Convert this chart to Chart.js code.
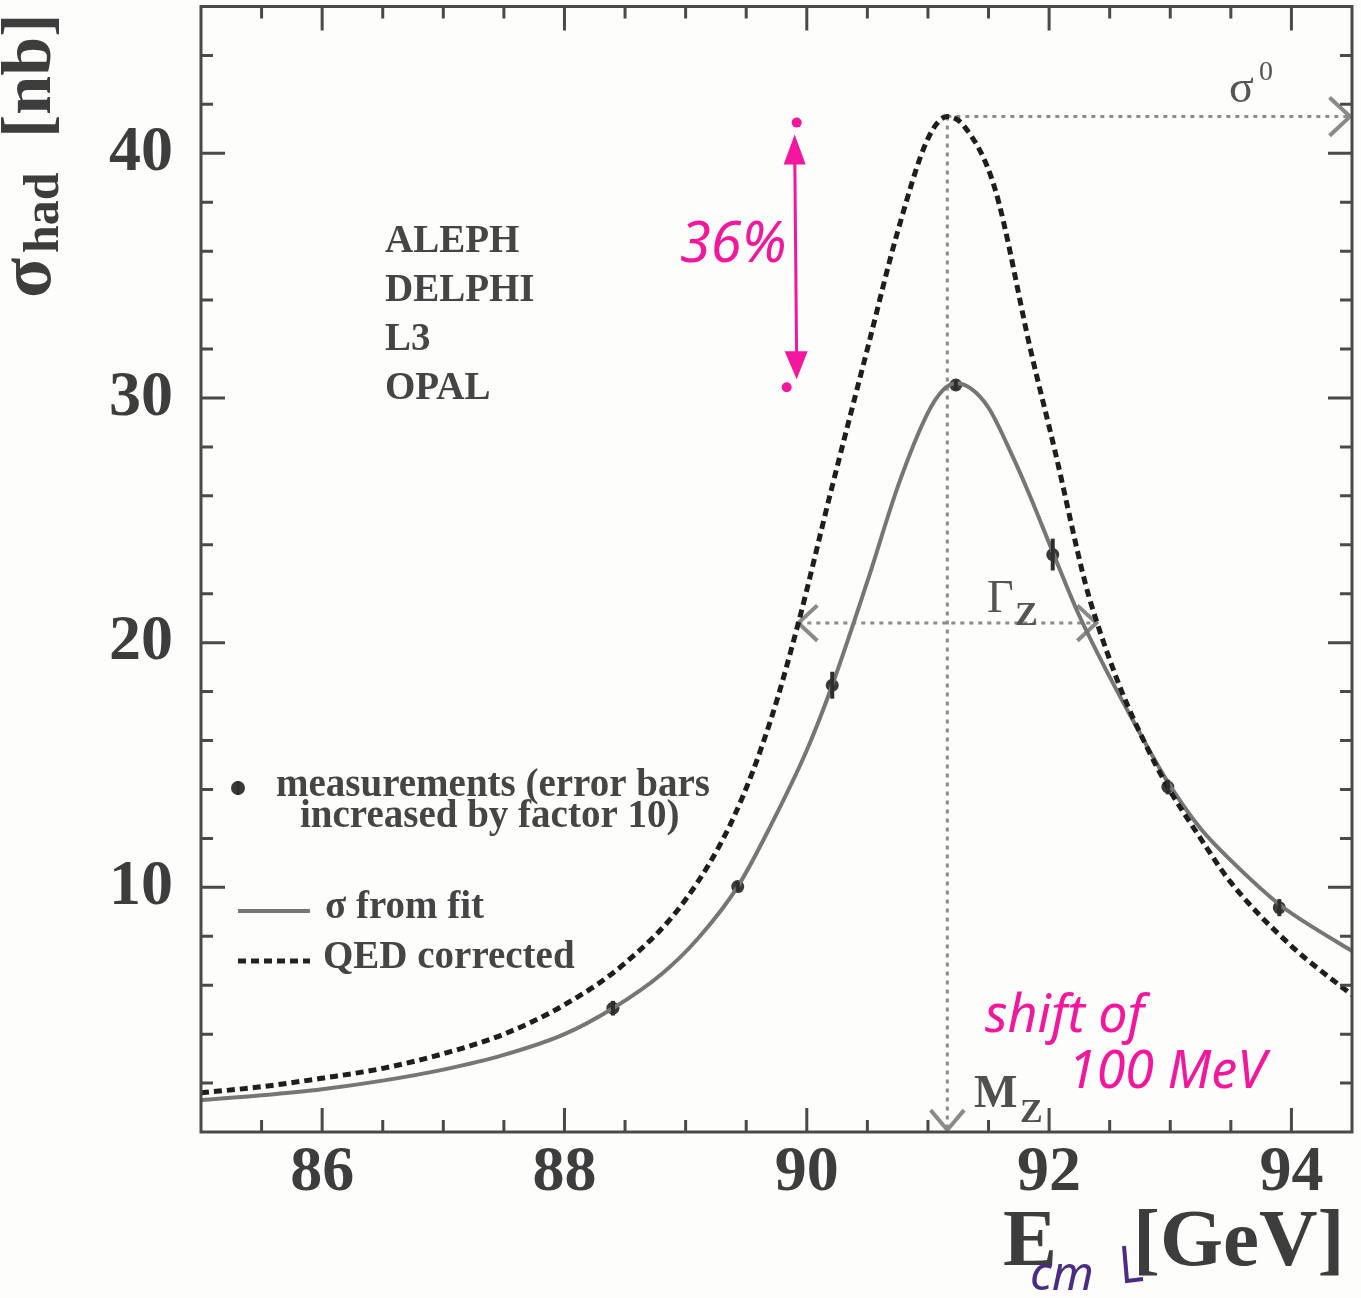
<!DOCTYPE html>
<html>
<head>
<meta charset="utf-8">
<script src="https://cdn.jsdelivr.net/npm/chart.js@4/dist/chart.umd.min.js"></script>
<style>
  html, body { margin: 0; padding: 0; background: #fdfdfb; }
  #wrap { width: 1361px; height: 1298px; position: relative; }
  canvas { display: block; }
</style>
</head>
<body>
<div id="wrap"><canvas id="c" width="1361" height="1298"></canvas></div>
<script>
// Hadronic cross-section measurements around the Z pole
const measEnergy = [88.40, 89.43, 90.21, 91.23, 92.03, 92.98, 93.90];
const measSigma  = [5.06, 10.03, 18.26, 30.53, 23.60, 14.10, 9.17];
const measErr    = [0.30, 0.20, 0.55, 0.20, 0.65, 0.30, 0.35];

// Fitted cross-section (solid line)
const fitEnergy = [85.0, 85.5, 86.0, 86.5, 87.0, 87.5, 88.0, 88.4, 88.8, 89.1, 89.43, 89.7, 90.0, 90.21,
                   90.5, 90.76, 91.0, 91.12, 91.23, 91.35, 91.5, 91.7, 91.85, 92.03, 92.24, 92.5, 92.75, 92.98,
                   93.25, 93.5, 93.9, 94.2, 94.5];
const fitSigma  = [1.30, 1.50, 1.75, 2.10, 2.55, 3.15, 4.00, 5.06, 6.45, 7.90, 10.03, 12.50, 15.60, 18.26,
                   22.50, 26.50, 29.40, 30.30, 30.60, 30.40, 29.60, 27.60, 25.90, 23.70, 21.20, 18.60, 16.30, 14.30,
                   12.40, 11.10, 9.30, 8.30, 7.40];

// QED-deconvoluted cross-section (dashed line)
const qedEnergy = [85.0, 85.5, 86.0, 86.5, 87.0, 87.5, 88.0, 88.5, 89.0, 89.4, 89.7, 89.93, 90.2, 90.5, 90.75,
                   91.0, 91.16, 91.3, 91.55, 91.85, 92.05, 92.3, 92.4, 92.6, 92.8, 92.98, 93.25, 93.5, 94.0, 94.5];
const qedSigma  = [1.60, 1.85, 2.20, 2.60, 3.20, 4.00, 5.20, 6.90, 9.50, 12.90, 16.80, 20.80, 26.20, 32.00, 36.80,
                   40.60, 41.50, 41.10, 38.60, 31.90, 27.80, 22.40, 20.75, 18.00, 15.80, 14.10, 12.00, 10.20, 7.60, 5.60];

// Axis ticks
const xTickLabels = [86, 88, 90, 92, 94];
const yTickLabels = [10, 20, 30, 40];

// Pole parameters marked on the plot
const sigma0 = 41.5;
const massZ = 91.16;
const widthLevel = 20.8;
const widthLow = 89.93;
const widthHigh = 92.39;
const fitPeak = 30.6;
const arrowX = 89.90;

const experiments = ['ALEPH', 'DELPHI', 'L3', 'OPAL'];

const SERIF = '"Liberation Serif", "DejaVu Serif", serif';
const HAND = '"Noto Sans", "DejaVu Sans", sans-serif';

function arrowHead(ctx, x, y, angle, len, spread) {
  ctx.beginPath();
  ctx.moveTo(x + len * Math.cos(angle + spread), y + len * Math.sin(angle + spread));
  ctx.lineTo(x, y);
  ctx.lineTo(x + len * Math.cos(angle - spread), y + len * Math.sin(angle - spread));
  ctx.stroke();
}

const decorations = {
  id: 'decorations',
  beforeDatasetsDraw(chart) {
    const { ctx, scales: { x, y } } = chart;
    ctx.save();
    // dotted guide lines for sigma0, M_Z and Gamma_Z
    ctx.strokeStyle = '#8c8c8c';
    ctx.lineWidth = 3;
    ctx.setLineDash([4, 5]);
    ctx.beginPath();
    ctx.moveTo(x.getPixelForValue(massZ), y.getPixelForValue(sigma0));
    ctx.lineTo(x.getPixelForValue(x.max) - 4, y.getPixelForValue(sigma0));
    ctx.moveTo(x.getPixelForValue(massZ), y.getPixelForValue(sigma0));
    ctx.lineTo(x.getPixelForValue(massZ), y.getPixelForValue(0) - 4);
    ctx.moveTo(x.getPixelForValue(widthLow), y.getPixelForValue(widthLevel));
    ctx.lineTo(x.getPixelForValue(widthHigh), y.getPixelForValue(widthLevel));
    ctx.stroke();
    ctx.setLineDash([]);
    ctx.lineWidth = 4;
    ctx.strokeStyle = '#8a8a8a';
    arrowHead(ctx, x.getPixelForValue(x.max) - 2, y.getPixelForValue(sigma0), Math.PI, 28, 0.75);
    arrowHead(ctx, x.getPixelForValue(massZ), y.getPixelForValue(0) - 2, -Math.PI / 2, 26, 0.7);
    arrowHead(ctx, x.getPixelForValue(widthLow), y.getPixelForValue(widthLevel), 0, 26, 0.75);
    arrowHead(ctx, x.getPixelForValue(widthHigh), y.getPixelForValue(widthLevel), Math.PI, 26, 0.75);
    ctx.restore();
  },
  afterDatasetsDraw(chart) {
    const { ctx, chartArea: a, scales: { x, y } } = chart;
    ctx.save();

    // error bars
    ctx.strokeStyle = '#2e2e2e';
    ctx.lineWidth = 4;
    measEnergy.forEach((e, i) => {
      const px = x.getPixelForValue(e);
      ctx.beginPath();
      ctx.moveTo(px, y.getPixelForValue(measSigma[i] - measErr[i]));
      ctx.lineTo(px, y.getPixelForValue(measSigma[i] + measErr[i]));
      ctx.stroke();
    });

    // frame
    ctx.strokeStyle = '#4a4a4a';
    ctx.lineWidth = 3;
    ctx.strokeRect(a.left, a.top, a.right - a.left, a.bottom - a.top);

    // inward ticks on all four sides
    ctx.lineWidth = 3;
    ctx.beginPath();
    for (let v = 85.5; v < x.max; v += 0.5) {
      const px = x.getPixelForValue(v);
      const len = xTickLabels.includes(v) ? 24 : 12;
      ctx.moveTo(px, a.bottom); ctx.lineTo(px, a.bottom - len);
      ctx.moveTo(px, a.top); ctx.lineTo(px, a.top + len);
    }
    for (let v = 2; v < y.max; v += 2) {
      const py = y.getPixelForValue(v);
      const len = (v % 10 === 0) ? 24 : 12;
      ctx.moveTo(a.left, py); ctx.lineTo(a.left + len, py);
      ctx.moveTo(a.right, py); ctx.lineTo(a.right - len, py);
    }
    ctx.stroke();

    // experiment list
    ctx.fillStyle = '#454545';
    ctx.font = 'bold 39px ' + SERIF;
    ctx.textBaseline = 'alphabetic';
    experiments.forEach((t, i) => ctx.fillText(t, 385, 252 + i * 49));

    // legend
    ctx.beginPath();
    ctx.arc(238, 788, 7, 0, Math.PI * 2);
    ctx.fillStyle = '#3a3a3a';
    ctx.fill();
    ctx.strokeStyle = '#2e2e2e';
    ctx.lineWidth = 3;
    ctx.beginPath(); ctx.moveTo(238, 781); ctx.lineTo(238, 795); ctx.stroke();
    ctx.fillStyle = '#454545';
    ctx.fillText('measurements (error bars', 276, 796);
    ctx.fillText('increased by factor 10)', 300, 827);
    ctx.strokeStyle = '#777777';
    ctx.lineWidth = 4;
    ctx.beginPath(); ctx.moveTo(238, 911); ctx.lineTo(310, 911); ctx.stroke();
    ctx.fillText('\u03c3 from fit', 325, 918);
    ctx.strokeStyle = '#222222';
    ctx.lineWidth = 5;
    ctx.setLineDash([8, 5]);
    ctx.beginPath(); ctx.moveTo(238, 961); ctx.lineTo(310, 961); ctx.stroke();
    ctx.setLineDash([]);
    ctx.fillText('QED corrected', 323, 968);

    // labels of the pole parameters
    ctx.fillStyle = '#555555';
    ctx.font = '46px ' + SERIF;
    ctx.fillText('\u03c3', 1229, 102);
    ctx.font = '28px ' + SERIF;
    ctx.fillText('0', 1259, 80);
    ctx.font = '46px ' + SERIF;
    ctx.fillText('\u0393', 987, 612);
    ctx.font = 'bold 34px ' + SERIF;
    ctx.fillText('Z', 1015, 625);
    ctx.fillStyle = '#505050';
    ctx.font = 'bold 46px ' + SERIF;
    ctx.fillText('M', 974, 1107);
    ctx.font = 'bold 34px ' + SERIF;
    ctx.fillText('Z', 1020, 1122);

    // y-axis title
    ctx.save();
    ctx.fillStyle = '#3d3d3d';
    ctx.translate(50, 298);
    ctx.rotate(-Math.PI / 2);
    ctx.font = 'bold 74px ' + SERIF;
    ctx.fillText('\u03c3', 0, 0);
    ctx.font = 'bold 50px ' + SERIF;
    ctx.fillText('had', 45, 8);
    ctx.font = 'bold 70px ' + SERIF;
    ctx.fillText('[nb]', 160, 0);
    ctx.restore();

    // x-axis title
    ctx.fillStyle = '#3d3d3d';
    ctx.font = 'bold 81px ' + SERIF;
    ctx.fillText('E', 1003, 1265);
    ctx.fillText('[GeV]', 1133, 1265);
    ctx.fillStyle = '#4a2c82';
    ctx.font = 'italic 48px ' + HAND;
    ctx.fillText('cm', 1030, 1290);
    ctx.strokeStyle = '#4a2c82';
    ctx.lineWidth = 4;
    ctx.beginPath(); ctx.moveTo(1124, 1246); ctx.lineTo(1127, 1281); ctx.lineTo(1143, 1279); ctx.stroke();

    // handwritten notes
    const pink = '#f2179c';
    ctx.fillStyle = pink;
    ctx.strokeStyle = pink;
    ctx.font = 'italic 56px ' + HAND;
    ctx.fillText('36%', 680, 262);
    ctx.font = 'italic 52px ' + HAND;
    ctx.fillText('shift of', 985, 1032);
    ctx.fillText('100 MeV', 1068, 1088);

    const ax = x.getPixelForValue(arrowX);
    const yTop = y.getPixelForValue(sigma0);
    const yBot = y.getPixelForValue(fitPeak);
    ctx.lineWidth = 3;
    ctx.beginPath(); ctx.moveTo(ax, yTop + 30); ctx.lineTo(ax + 2, yBot - 20); ctx.stroke();
    ctx.beginPath();
    ctx.moveTo(ax, yTop + 18); ctx.lineTo(ax - 11, yTop + 48); ctx.lineTo(ax + 11, yTop + 48); ctx.closePath();
    ctx.fill();
    ctx.beginPath();
    ctx.moveTo(ax + 2, yBot - 4); ctx.lineTo(ax - 10, yBot - 32); ctx.lineTo(ax + 13, yBot - 32); ctx.closePath();
    ctx.fill();
    ctx.beginPath(); ctx.arc(ax + 2, yTop + 6, 5, 0, Math.PI * 2); ctx.fill();
    ctx.beginPath(); ctx.arc(ax - 8, yBot + 4, 5, 0, Math.PI * 2); ctx.fill();

    ctx.restore();
  }
};

new Chart(document.getElementById('c'), {
  type: 'scatter',
  data: {
    datasets: [
      {
        label: 'QED corrected',
        data: qedEnergy.map((e, i) => ({ x: e, y: qedSigma[i] })),
        showLine: true,
        borderColor: '#1e1e1e',
        borderWidth: 5,
        borderDash: [8, 5],
        cubicInterpolationMode: 'monotone',
        pointRadius: 0
      },
      {
        label: '\u03c3 from fit',
        data: fitEnergy.map((e, i) => ({ x: e, y: fitSigma[i] })),
        showLine: true,
        borderColor: '#767676',
        borderWidth: 4,
        cubicInterpolationMode: 'monotone',
        pointRadius: 0
      },
      {
        label: 'measurements',
        data: measEnergy.map((e, i) => ({ x: e, y: measSigma[i] })),
        showLine: false,
        pointRadius: 6.5,
        pointBackgroundColor: '#3a3a3a',
        pointBorderWidth: 0
      }
    ]
  },
  options: {
    responsive: false,
    animation: false,
    devicePixelRatio: 1,
    layout: { padding: { left: 0, right: 9, top: 5, bottom: 0 } },
    plugins: { legend: { display: false }, tooltip: { enabled: false } },
    scales: {
      x: {
        type: 'linear',
        min: 85,
        max: 94.5,
        grid: { display: false, drawTicks: false },
        border: { display: false },
        ticks: {
          stepSize: 0.5,
          autoSkip: false,
          maxRotation: 0,
          padding: 3,
          color: '#3d3d3d',
          font: { family: SERIF, size: 64, weight: 'bold' },
          callback: v => xTickLabels.includes(v) ? String(v) : ''
        },
        afterFit: s => { s.height = 166; s.paddingLeft = 0; s.paddingRight = 0; }
      },
      y: {
        min: 0,
        max: 46,
        grid: { display: false, drawTicks: false },
        border: { display: false },
        ticks: {
          stepSize: 2,
          autoSkip: false,
          padding: 28,
          color: '#3d3d3d',
          font: { family: SERIF, size: 64, weight: 'bold' },
          callback: v => yTickLabels.includes(v) ? String(v) : ''
        },
        afterFit: s => { s.width = 201; s.paddingTop = 0; s.paddingBottom = 0; }
      }
    }
  },
  plugins: [decorations]
});
</script>
</body>
</html>
